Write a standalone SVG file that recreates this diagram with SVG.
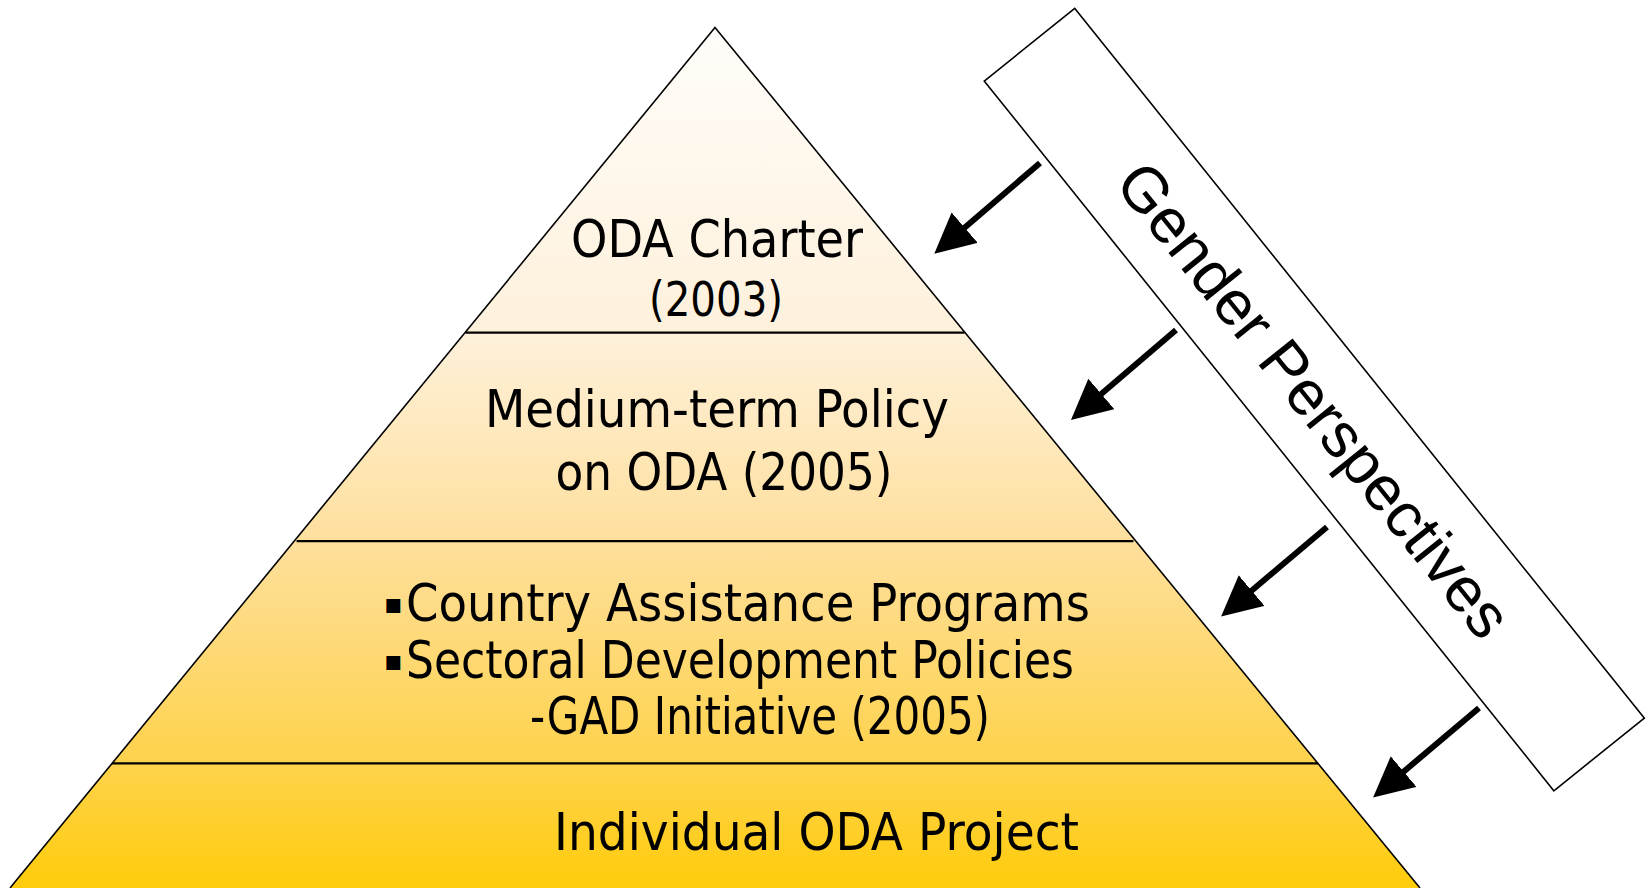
<svg xmlns="http://www.w3.org/2000/svg" width="1651" height="888" viewBox="0 0 1651 888">
  <style>
    .tier { font-family: 'DejaVu Sans Condensed', 'DejaVu Sans', sans-serif; font-stretch: condensed; fill: #000; }
    .big { font-size: 51px; }
    .small { font-size: 48px; }
    .bullet { font-family: 'DejaVu Sans', sans-serif; font-size: 28px; fill: #000; }
    .edge { fill: none; stroke: #000; stroke-width: 1.6; }
    .sep { stroke: #000; stroke-width: 2.2; }
    .arrow { stroke: #000; stroke-width: 6; marker-end: url(#head); }
    .gp { font-family: 'Liberation Sans', Arial, sans-serif; font-size: 63px; fill: #000; }
  </style>
  <defs>
    <linearGradient id="pyr" gradientUnits="userSpaceOnUse" x1="0" y1="27" x2="0" y2="888">
      <stop offset="0" stop-color="#FFFDFA"/>
      <stop offset="0.35" stop-color="#FEF1DC"/>
      <stop offset="0.6" stop-color="#FEDF9C"/>
      <stop offset="0.86" stop-color="#FED24A"/>
      <stop offset="1" stop-color="#FFCC0A"/>
    </linearGradient>
    <marker id="head" markerUnits="userSpaceOnUse" markerWidth="42" markerHeight="42" refX="4" refY="20" orient="auto">
      <path d="M0,0 L40,20 L0,40 Z" fill="#000"/>
    </marker>
  </defs>

  <g id="pyramid">
    <polygon points="715,27.4 1420,888 10,888" fill="url(#pyr)"/>
    <line class="sep" x1="465.5" y1="332.7" x2="964.5" y2="332.7"/>
    <line class="sep" x1="296.6" y1="541.2" x2="1133.4" y2="541.2"/>
    <line class="sep" x1="112" y1="763.4" x2="1318" y2="763.4"/>
    <polyline class="edge" points="10,888 715,27.4 1420,888"/>
  </g>

  <g id="tier1">
    <text class="tier big" x="717" y="257" text-anchor="middle" textLength="292" lengthAdjust="spacingAndGlyphs">ODA Charter</text>
    <text class="tier small" x="716" y="316" text-anchor="middle" textLength="134" lengthAdjust="spacingAndGlyphs">(2003)</text>
  </g>

  <g id="tier2">
    <text class="tier big" x="717" y="427" text-anchor="middle" textLength="464" lengthAdjust="spacingAndGlyphs">Medium-term Policy</text>
    <text class="tier big" x="724" y="490" text-anchor="middle" textLength="337" lengthAdjust="spacingAndGlyphs">on ODA (2005)</text>
  </g>

  <g id="tier3">
    <text class="bullet" x="384" y="613">▪</text>
    <text class="tier big" x="406" y="621" textLength="684" lengthAdjust="spacingAndGlyphs">Country Assistance Programs</text>
    <text class="bullet" x="384" y="670">▪</text>
    <text class="tier big" x="406" y="678" textLength="668" lengthAdjust="spacingAndGlyphs">Sectoral Development Policies</text>
    <text class="tier big" x="530" y="734" textLength="460" lengthAdjust="spacingAndGlyphs">-GAD Initiative (2005)</text>
  </g>

  <g id="tier4">
    <text class="tier big" x="554" y="850" textLength="525" lengthAdjust="spacingAndGlyphs">Individual ODA Project</text>
  </g>

  <g id="gender-perspectives" transform="translate(1314.3,399.6) rotate(51.25)">
    <rect x="-455" y="-58" width="910" height="116" fill="#fff" stroke="#000" stroke-width="1.6"/>
    <text class="gp" x="0" y="22" text-anchor="middle">Gender Perspectives</text>
  </g>

  <g id="connectors">
    <line class="arrow" x1="1040" y1="163" x2="961.6" y2="230.2"/>
    <line class="arrow" x1="1176" y1="330" x2="1098.3" y2="396.5"/>
    <line class="arrow" x1="1327" y1="527" x2="1248.6" y2="593.2"/>
    <line class="arrow" x1="1479" y1="708" x2="1400.6" y2="774.2"/>
  </g>
</svg>
